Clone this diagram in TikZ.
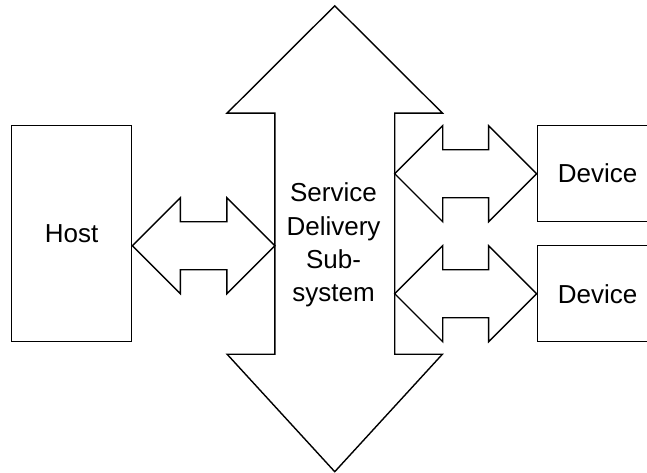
\documentclass[tikz,border=0pt]{standalone}
\usepackage{fontspec}
\setmainfont{Liberation Sans}
\usetikzlibrary{calc}
\begin{document}
\begin{tikzpicture}[x=1pt,y=-1pt,
  line/.style={draw=black, line width=1.4pt, line join=miter},
  box/.style={line, rectangle, inner sep=0pt, font=\fontsize{26}{33.3}\selectfont},
  lbl/.style={inner sep=0pt, align=center, font=\fontsize{26}{33.3}\selectfont},
  shaft/.style={inner sep=0pt, minimum width=119.5pt, minimum height=240.7pt}]
\useasboundingbox (0,0) rectangle (647,472);
\clip (0,0) rectangle (647,472);
% nodes
\node[box, minimum width=120pt, minimum height=216pt] (host) at (71.7,233.7) {Host};
\node[box, minimum width=120.4pt, minimum height=96pt] (dev1) at (597.5,173.7) {Device};
\node[box, minimum width=120.4pt, minimum height=96pt] (dev2) at (597.5,293.7) {Device};
\node[shaft] (bus) at (334.75,233.65) {};
\node[lbl] (sds) at (333.5,245) {Service\\Delivery\\Sub-\\system};
% big vertical double arrow (service delivery subsystem)
\draw[line] (bus.north west) -- ($(bus.north west)+(-47.7,0)$) -- ($(bus.north)+(0,-107.3)$)
  -- ($(bus.north east)+(47.7,0)$) -- (bus.north east) -- (bus.south east)
  -- ($(bus.south east)+(47.7,0)$) -- ($(bus.south)+(0,117.5)$)
  -- ($(bus.south west)+(-47.7,0)$) -- (bus.south west) -- cycle;
% fat horizontal double arrows
\newcommand{\fatarrow}[2]{%
  \draw[line] (#1) -- ($(#1)+(48,-48)$) -- ($(#1)+(48,-24)$) -- ($(#2)+(-48,-24)$)
    -- ($(#2)+(-48,-48)$) -- (#2) -- ($(#2)+(-48,48)$) -- ($(#2)+(-48,24)$)
    -- ($(#1)+(48,24)$) -- ($(#1)+(48,48)$) -- cycle;}
\coordinate (hp) at ([yshift=-12pt]host.east);
\coordinate (bw) at (bus.west |- hp);
\fatarrow{hp}{bw}
\coordinate (b1) at (bus.east |- dev1.west);
\fatarrow{b1}{dev1.west}
\coordinate (b2) at (bus.east |- dev2.west);
\fatarrow{b2}{dev2.west}
\end{tikzpicture}
\end{document}
